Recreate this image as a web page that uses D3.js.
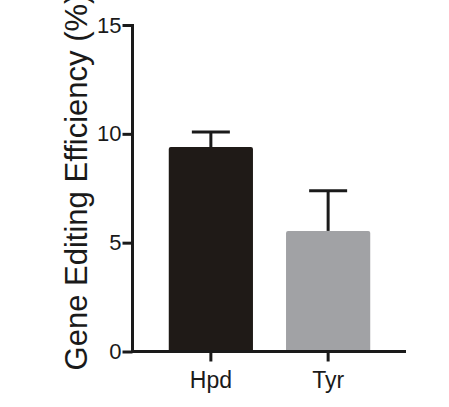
<!DOCTYPE html>
<html>
<head>
<meta charset="utf-8">
<script src="https://cdn.jsdelivr.net/npm/d3@7"></script>
<style>
html,body{margin:0;padding:0;background:#fff;}
svg{display:block;}
text{font-family:"Liberation Sans",Arial,Helvetica,sans-serif;fill:#1a1a1a;}
</style>
</head>
<body>
<svg id="chart" width="449" height="407"></svg>
<script>
const categories = ["Hpd", "Tyr"];
const means = [9.39, 5.54];
const errors = [0.69, 1.84];
const barColors = ["#1f1a17", "#a1a2a5"];
const yTicks = [0, 5, 10, 15];
const yLabel = "Gene Editing Efficiency (%)";

const svg = d3.select("#chart");
const x0 = 133, x1 = 406, yTop = 25, yBottom = 351.5;

const x = d3.scaleBand().domain(categories).range([x0, x1])
  .paddingInner(0.282).paddingOuter(0.305);
const y = d3.scaleLinear().domain([0, 15]).range([yBottom, yTop]);

// bars
svg.selectAll("rect.bar").data(categories).join("rect")
  .attr("class", "bar")
  .attr("x", d => x(d))
  .attr("width", x.bandwidth())
  .attr("y", (d, i) => y(means[i]))
  .attr("height", (d, i) => y(0) - y(means[i]))
  .attr("rx", 2)
  .attr("fill", (d, i) => barColors[i]);

// error bars (upper)
const capW = 38;
const eb = svg.selectAll("g.err").data(categories).join("g").attr("class", "err");
eb.append("line")
  .attr("x1", d => x(d) + x.bandwidth() / 2)
  .attr("x2", d => x(d) + x.bandwidth() / 2)
  .attr("y1", (d, i) => y(means[i]))
  .attr("y2", (d, i) => y(means[i] + errors[i]))
  .attr("stroke", "#1a1a1a").attr("stroke-width", 3);
eb.append("line")
  .attr("x1", d => x(d) + x.bandwidth() / 2 - capW / 2)
  .attr("x2", d => x(d) + x.bandwidth() / 2 + capW / 2)
  .attr("y1", (d, i) => y(means[i] + errors[i]))
  .attr("y2", (d, i) => y(means[i] + errors[i]))
  .attr("stroke", "#1a1a1a").attr("stroke-width", 3);

// y axis
const yAxis = svg.append("g").attr("transform", `translate(${x0 - 0.5},0)`)
  .call(d3.axisLeft(y).tickValues(yTicks).tickSize(10).tickSizeOuter(0).tickPadding(1));
yAxis.select(".domain").attr("stroke", "#1a1a1a").attr("stroke-width", 3)
  .attr("d", `M0,${yTop - 1}V${yBottom + 1.5}`);
yAxis.selectAll(".tick line").attr("stroke", "#1a1a1a").attr("stroke-width", 3);
yAxis.selectAll(".tick text").attr("font-size", 22).attr("fill", "#1a1a1a")
  .style("font-family", '"Liberation Sans",Arial,sans-serif');

// x axis
const xAxis = svg.append("g").attr("transform", `translate(0,${yBottom})`)
  .call(d3.axisBottom(x).tickSize(10).tickSizeOuter(0).tickPadding(10));
xAxis.select(".domain").attr("stroke", "#1a1a1a").attr("stroke-width", 3)
  .attr("d", `M${x0 - 2},0H${x1}`);
xAxis.selectAll(".tick line").attr("stroke", "#1a1a1a").attr("stroke-width", 3);
xAxis.selectAll(".tick text").attr("font-size", 23).attr("fill", "#1a1a1a")
  .style("font-family", '"Liberation Sans",Arial,sans-serif');

// y label
svg.append("text")
  .attr("transform", `translate(87,182) rotate(-90)`)
  .attr("text-anchor", "middle")
  .attr("font-size", 31)
  .text(yLabel);
</script>
</body>
</html>
